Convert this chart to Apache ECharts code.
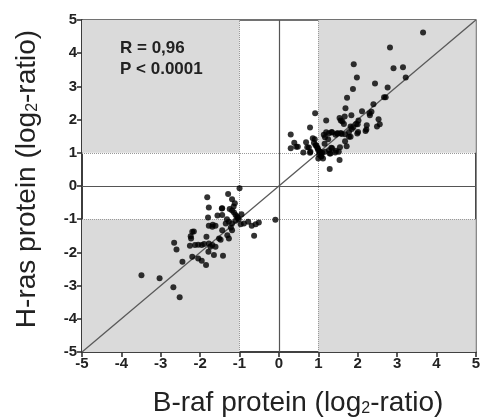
<!DOCTYPE html>
<html><head><meta charset="utf-8">
<script src="https://cdn.jsdelivr.net/npm/echarts@6/dist/echarts.min.js"></script>
<style>html,body{margin:0;padding:0;background:#fff}#c{width:483px;height:419px}</style>
</head><body><div id="c"></div>
<script>
const ticks = [-5,-4,-3,-2,-1,0,1,2,3,4,5];
const xTitle = 'B-raf protein (log';
const yTitle = 'H-ras protein (log';
const annot = ['R = 0,96', 'P < 0.0001'];
// B-raf protein (x), H-ras protein (y), log2 ratios
const brafUp = [3.66,2.82,2.91,3.15,3.22,1.90,1.98,1.88,2.44,2.76,1.73,2.67,2.40,1.69,2.11,2.30,2.31,1.84,0.92,1.54,1.67,1.20,1.57,2.02,2.53,0.79,1.65,1.96,2.23,2.49,1.89,2.22,1.85,1.20,1.34,1.49,1.57,1.68,1.78,1.99,1.68,1.17,1.25,1.44,1.72,0.30,0.39,0.48,0.30,0.62,0.69,0.72,0.79,0.86,0.91,0.89,0.95,0.99,1.05,1.02,1.07,1.10,1.17,1.29,1.43,1.33,1.55,1.54,1.29,1.16,1.61,2.00,2.56,2.35,2.71,1.82,1.78,1.59,1.48,1.35,1.27,1.14,1.82,2.20,2.01,0.44,0.76,0.80,0.93,0.97,1.00,1.03,1.06,1.08,1.00,1.12,1.27,1.35,1.45,1.31,1.52];
const hrasUp = [4.62,4.17,3.55,3.58,3.27,3.67,3.27,2.92,3.09,2.97,2.66,2.67,2.46,2.34,2.25,2.19,2.13,2.13,2.19,2.05,2.09,1.97,1.97,1.97,2.01,1.76,1.87,1.87,1.83,1.79,1.77,1.70,1.72,1.62,1.63,1.58,1.60,1.56,1.48,1.58,1.35,1.47,1.41,1.54,1.20,1.55,1.30,1.18,1.14,1.01,1.32,1.17,1.00,1.44,1.41,1.30,1.23,1.13,1.03,0.95,0.88,1.00,1.03,0.98,1.01,1.15,1.17,0.78,0.51,1.27,1.94,1.86,1.86,2.24,2.67,1.79,1.63,1.57,1.59,1.61,1.59,1.54,1.48,1.66,1.63,1.18,1.16,1.03,1.23,1.16,1.08,1.03,0.98,0.90,0.83,0.83,1.08,1.14,1.06,0.98,1.03];
const brafDown = [-1.00,-1.82,-1.29,-1.19,-1.78,-1.12,-1.44,-1.25,-1.19,-1.14,-1.10,-1.06,-1.02,-1.44,-1.80,-1.35,-1.27,-1.19,-1.10,-0.97,-0.89,-0.78,-0.69,-0.59,-0.51,-0.63,-0.09,-1.69,-1.44,-1.31,-1.19,-1.27,-2.20,-2.24,-1.78,-1.68,-2.16,-2.23,-1.84,-2.66,-2.60,-2.26,-2.13,-2.05,-1.96,-1.90,-1.78,-1.74,-1.69,-1.61,-1.79,-1.65,-2.05,-1.96,-2.20,-1.85,-2.45,-3.49,-3.03,-2.68,-2.52,-1.52,-1.61,-1.56,-1.45,-1.48,-1.42,-1.22,-1.05,-1.15,-0.95,-1.32];
const hrasDown = [-0.07,-0.34,-0.24,-0.40,-0.65,-0.52,-0.67,-0.69,-0.74,-0.80,-0.87,-0.92,-1.00,-0.87,-0.95,-1.13,-1.08,-1.13,-1.05,-1.15,-1.13,-1.08,-1.20,-1.15,-1.10,-1.50,-1.02,-1.23,-1.33,-1.48,-1.33,-1.58,-1.38,-1.51,-1.20,-1.17,-1.37,-1.58,-1.53,-1.71,-1.91,-1.80,-1.78,-1.77,-1.78,-1.75,-1.73,-1.83,-1.78,-1.83,-1.98,-2.08,-2.18,-2.25,-2.13,-2.38,-2.28,-2.69,-2.78,-3.05,-3.35,-1.58,-1.20,-0.89,-0.68,-1.62,-2.10,-1.25,-0.96,-0.62,-0.85,-1.00];

const pts = [];
brafUp.forEach((v,i)=>pts.push([v,hrasUp[i]]));
brafDown.forEach((v,i)=>pts.push([v,hrasDown[i]]));

const chart = echarts.init(document.getElementById('c'));
const F = '"Liberation Sans", Arial, sans-serif';
const shade = {color:'#dadada'};
const axisCommon = {
  min:-5, max:5, interval:1,
  axisLine:{show:true, onZero:false, lineStyle:{color:'#333', width:1.6}},
  axisTick:{show:true, inside:false, length:5, lineStyle:{color:'#333', width:1.6}},
  axisLabel:{color:'#222', fontFamily:F, fontWeight:'bold', fontSize:15},
  splitLine:{show:false}
};
const titleRich = {
  a:{fontFamily:F, fontSize:28, fill:'#222', color:'#222', lineHeight:32, verticalAlign:'bottom'},
  s:{fontFamily:F, fontSize:16, fill:'#222', color:'#222', lineHeight:32, verticalAlign:'bottom', padding:[10,0,0,0]}
};
chart.setOption({
  animation:false,
  grid:{left:82, right:6, top:20, bottom:67, show:true, borderColor:'#444', borderWidth:1.6, backgroundColor:'transparent'},
  xAxis:Object.assign({type:'value'}, axisCommon, {axisLabel:Object.assign({}, axisCommon.axisLabel, {margin:4})}),
  yAxis:Object.assign({type:'value'}, axisCommon, {axisLabel:Object.assign({}, axisCommon.axisLabel, {margin:5})}),
  series:[
    {type:'line', data:[], silent:true,
     markArea:{silent:true, itemStyle:shade, data:[
       [{xAxis:1,yAxis:1},{xAxis:5,yAxis:5}],
       [{xAxis:-5,yAxis:1},{xAxis:-1,yAxis:5}],
       [{xAxis:-5,yAxis:-5},{xAxis:-1,yAxis:-1}],
       [{xAxis:1,yAxis:-5},{xAxis:5,yAxis:-1}]
     ]},
     markLine:{silent:true, symbol:'none', label:{show:false}, data:[
       {xAxis:-1, lineStyle:{type:'dotted', color:'#999', width:1}},
       {xAxis:1, lineStyle:{type:'dotted', color:'#999', width:1}},
       {yAxis:-1, lineStyle:{type:'dotted', color:'#999', width:1}},
       {yAxis:1, lineStyle:{type:'dotted', color:'#999', width:1}},
       {xAxis:0, lineStyle:{type:'solid', color:'#555', width:1.2}},
       {yAxis:0, lineStyle:{type:'solid', color:'#555', width:1.2}}
     ]}},
    {type:'line', data:[[-5,-5],[5,5]], symbol:'none', silent:true, lineStyle:{color:'#5a5a5a', width:1.3}},
    {type:'scatter', data:pts, symbol:'circle', symbolSize:6, itemStyle:{color:'#000'}, z:5}
  ],
  graphic:[
    {type:'text', left:120, top:40, z:100, style:{text:annot[0], fontFamily:F, fontWeight:'bold', fontSize:17, fill:'#222'}},
    {type:'text', left:120, top:61, z:100, style:{text:annot[1], fontFamily:F, fontWeight:'bold', fontSize:17, fill:'#222'}},
    {type:'text', x:298, y:401, z:100, style:{
      text:'{a|'+xTitle+'}{s|2}{a|-ratio)}', align:'center', verticalAlign:'middle', rich:titleRich}},
    {type:'text', x:25, y:179, z:100, rotation:Math.PI/2, style:{
      text:'{a|'+yTitle+'}{s|2}{a|-ratio)}', align:'center', verticalAlign:'middle', rich:titleRich}}
  ]
});
</script></body></html>
